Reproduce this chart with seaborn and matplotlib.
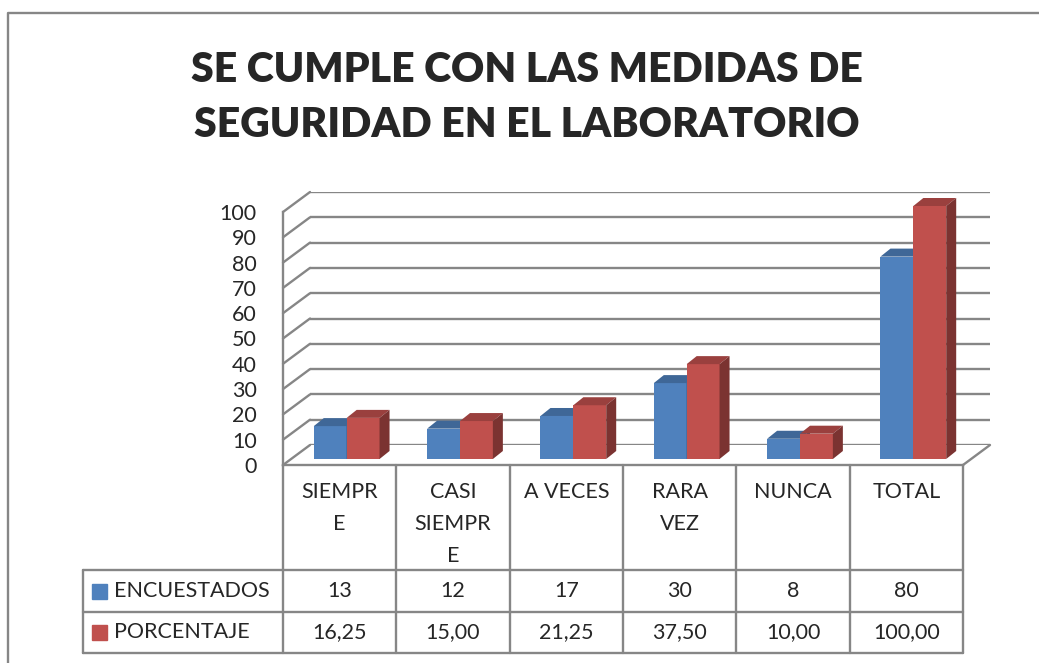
import numpy as np
import pandas as pd
import seaborn as sns
import matplotlib.pyplot as plt
from matplotlib.patches import Polygon, Rectangle, ConnectionPatch
from matplotlib.colors import to_rgb

# datos
categorias = ["SIEMPR\nE", "CASI\nSIEMPR\nE", "A VECES", "RARA\nVEZ", "NUNCA", "TOTAL"]
encuestados = [13, 12, 17, 30, 8, 80]
porcentaje = [16.25, 15.00, 21.25, 37.50, 10.00, 100.00]
series = ["ENCUESTADOS", "PORCENTAJE"]
colores = ["#4F81BD", "#C0504D"]
ticks = list(range(0, 101, 10))
titulo = ["SE CUMPLE CON LAS MEDIDAS DE", "SEGURIDAD EN EL LABORATORIO"]

sns.set_style("white")
plt.rcParams['font.family'] = ['Lato', 'DejaVu Sans']

W, H = 1039, 663
fig = plt.figure(figsize=(W / 100, H / 100), dpi=100)
gris = "#868686"
fs = 15.5


def px_axes(x0, y_top, w, h):
    return fig.add_axes([x0 / W, 1 - (y_top + h) / H, w / W, h / H])


# overlay en pixeles para titulo, tabla y borde
ax_ov = fig.add_axes([0, 0, 1, 1])
ax_ov.set_xlim(0, W)
ax_ov.set_ylim(H, 0)
ax_ov.axis("off")

# pared del fondo, eje frontal y plano de las barras
ax_back = px_axes(310, 192, 680, 253)
ax_front = px_axes(283, 212, 680, 253)
ax_bar = px_axes(290, 206, 680, 253)

for a in (ax_back, ax_front, ax_bar):
    a.set_facecolor("none")
    a.set_ylim(0, 100)

ax_back.set_xlim(0, 1)
ax_back.set_yticks(ticks)
ax_back.set_yticklabels([])
ax_back.set_xticks([])
ax_back.tick_params(length=0)
ax_back.yaxis.grid(True, color=gris, lw=1.7)
for s in ax_back.spines.values():
    s.set_visible(False)

ax_front.set_xlim(-0.5, 5.5)
ax_front.set_yticks(ticks)
ax_front.set_xticks([])
ax_front.tick_params(axis="y", length=0, pad=19, labelsize=fs)
for s in ["top", "right"]:
    ax_front.spines[s].set_visible(False)
for s in ["left", "bottom"]:
    ax_front.spines[s].set_color(gris)
    ax_front.spines[s].set_linewidth(1.7)

# lineas diagonales que unen el frente con la pared del fondo
for v in ticks:
    con = ConnectionPatch(xyA=(0, v), coordsA=ax_front.get_yaxis_transform(),
                          xyB=(0, v), coordsB=ax_back.get_yaxis_transform(),
                          color=gris, lw=1.7)
    fig.add_artist(con)
con = ConnectionPatch(xyA=(1, 0), coordsA=ax_front.get_yaxis_transform(),
                      xyB=(1, 0), coordsB=ax_back.get_yaxis_transform(),
                      color=gris, lw=1.7)
fig.add_artist(con)

df = pd.DataFrame({
    "categoria": categorias * 2,
    "serie": [series[0]] * len(categorias) + [series[1]] * len(categorias),
    "valor": encuestados + porcentaje,
})
sns.barplot(data=df, x="categoria", y="valor", hue="serie", order=categorias,
            hue_order=series, palette=colores, width=0.58, saturation=1,
            linewidth=0, legend=False, ax=ax_bar)
ax_bar.set_xlim(-0.5, 5.5)
ax_bar.set_ylim(0, 100)
ax_bar.axis("off")

# caras laterales y superiores (efecto 3D)
dx = 10 / (680 / 6)
dy = 8 / (253 / 100)
for k, p in enumerate(sorted(ax_bar.patches, key=lambda q: q.get_x())):
    x0, w, h = p.get_x(), p.get_width(), p.get_height()
    c = np.array(to_rgb(p.get_facecolor()))
    z = 2 + k * 0.01
    p.set_zorder(z)
    p.set_clip_on(False)
    ax_bar.add_patch(Polygon([(x0, h), (x0 + w, h), (x0 + w + dx, h + dy), (x0 + dx, h + dy)],
                             closed=True, fc=c * 0.8, ec="none", zorder=z, clip_on=False))
    ax_bar.add_patch(Polygon([(x0 + w, 0), (x0 + w + dx, dy), (x0 + w + dx, h + dy), (x0 + w, h)],
                             closed=True, fc=c * 0.64, ec="none", zorder=z, clip_on=False))

# titulo
ax_ov.text(527, 70, titulo[0], ha="center", va="center", fontsize=29.5, fontweight="heavy")
ax_ov.text(527, 125, titulo[1], ha="center", va="center", fontsize=29.5, fontweight="heavy")

# tabla de datos
col = [283 + i * 680 / 6 for i in range(7)]
y_floor, y_h, y_r1, y_r2 = 465, 570, 612, 653
x_left = 83
lw_t = 1.7
for x in col:
    ax_ov.plot([x, x], [y_floor, y_r2], color=gris, lw=lw_t)
for y in (y_h, y_r1, y_r2):
    ax_ov.plot([x_left, col[-1]], [y, y], color=gris, lw=lw_t)
ax_ov.plot([x_left, x_left], [y_h, y_r2], color=gris, lw=lw_t)

for i, lab in enumerate(categorias):
    xc = (col[i] + col[i + 1]) / 2
    for j, linea in enumerate(lab.split("\n")):
        ax_ov.text(xc, 492 + 32 * j, linea, ha="center", va="center", fontsize=fs)

filas = [[str(v) for v in encuestados],
         [f"{v:.2f}".replace(".", ",") for v in porcentaje]]
for r, (y0, y1) in enumerate([(y_h, y_r1), (y_r1, y_r2)]):
    yc = (y0 + y1) / 2
    ax_ov.add_patch(Rectangle((92, yc - 7.5), 15, 15, color=colores[r]))
    ax_ov.text(114, yc, series[r], ha="left", va="center", fontsize=fs)
    for i, txt in enumerate(filas[r]):
        ax_ov.text((col[i] + col[i + 1]) / 2, yc, txt, ha="center", va="center", fontsize=fs)

# borde del grafico
ax_ov.plot([8, 8, W], [H, 13, 13], color=gris, lw=1.7)

plt.savefig("out.png", dpi=100)
